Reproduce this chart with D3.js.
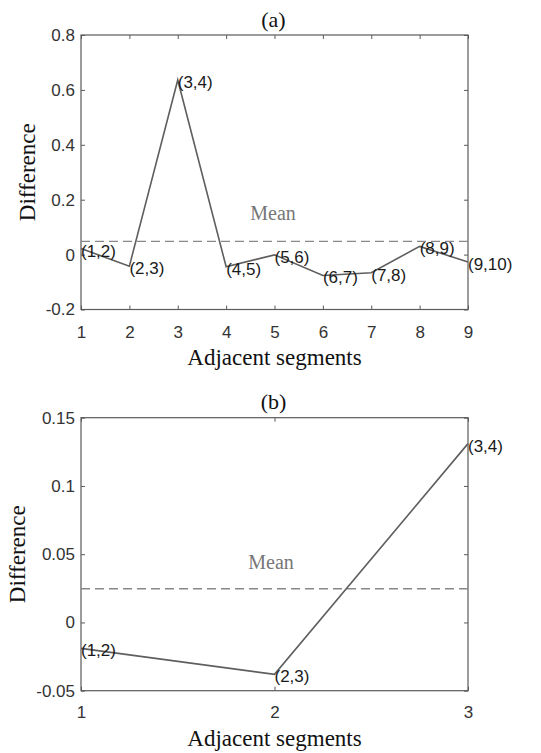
<!DOCTYPE html>
<html>
<head>
<meta charset="utf-8">
<script src="https://cdn.jsdelivr.net/npm/d3@7/dist/d3.min.js"></script>
<style>
  html, body { margin: 0; padding: 0; background: #fff; }
  svg { display: block; }
</style>
</head>
<body>
<svg id="chart" width="541" height="753"></svg>
<script>
// ---- Panel (a) data ----
const xA = [1, 2, 3, 4, 5, 6, 7, 8, 9];
const valuesA = [0.022, -0.042, 0.636, -0.044, -0.001, -0.076, -0.066, 0.030, -0.027];
const pairLabelsA = ["(1,2)", "(2,3)", "(3,4)", "(4,5)", "(5,6)", "(6,7)", "(7,8)", "(8,9)", "(9,10)"];
const yTicksA = [-0.2, 0, 0.2, 0.4, 0.6, 0.8];
const yTickLabelsA = ["-0.2", "0", "0.2", "0.4", "0.6", "0.8"];
const xTicksA = [1, 2, 3, 4, 5, 6, 7, 8, 9];

// ---- Panel (b) data ----
const xB = [1, 2, 3];
const valuesB = [-0.019, -0.038, 0.131];
const pairLabelsB = ["(1,2)", "(2,3)", "(3,4)"];
const yTicksB = [-0.05, 0, 0.05, 0.1, 0.15];
const yTickLabelsB = ["-0.05", "0", "0.05", "0.1", "0.15"];
const xTicksB = [1, 2, 3];

const titles = ["(a)", "(b)"];
const xTitle = "Adjacent segments";
const yTitle = "Difference";
const meanText = "Mean";

const svg = d3.select("#chart");

function panel(cfg) {
  const { xs, vals, labels, yTicks, yTickLabels, xTicks, xDomain, yDomain,
          left, right, top, bottom, title, titleY, yLabelX, xLabelY, xPad, meanLabelX, meanLabelY } = cfg;
  const x = d3.scaleLinear().domain(xDomain).range([left, right]);
  const y = d3.scaleLinear().domain(yDomain).range([bottom, top]);
  const g = svg.append("g");
  const axisColor = "#5a5a5a";
  const tickTextColor = "#333";

  // bottom axis
  const ax = g.append("g").attr("transform", `translate(0,${bottom})`)
    .call(d3.axisBottom(x).tickValues(xTicks).tickFormat(d => String(d))
      .tickSizeInner(-4).tickSizeOuter(0).tickPadding(xPad));
  // top axis (ticks only)
  const at = g.append("g").attr("transform", `translate(0,${top})`)
    .call(d3.axisTop(x).tickValues(xTicks).tickFormat("").tickSizeInner(-4).tickSizeOuter(0));
  // left axis
  const al = g.append("g").attr("transform", `translate(${left},0)`)
    .call(d3.axisLeft(y).tickValues(yTicks).tickFormat((d, i) => yTickLabels[i])
      .tickSizeInner(-4).tickSizeOuter(0).tickPadding(6));
  // right axis (ticks only)
  const ar = g.append("g").attr("transform", `translate(${right},0)`)
    .call(d3.axisRight(y).tickValues(yTicks).tickFormat("").tickSizeInner(-4).tickSizeOuter(0));

  [ax, at, al, ar].forEach(a => {
    a.select(".domain").remove();
    a.selectAll(".tick line").attr("stroke", axisColor).attr("stroke-width", 1);
    a.selectAll(".tick text").attr("fill", tickTextColor)
      .style("font-family", "'Liberation Sans', Arial, sans-serif").style("font-size", "17px");
  });

  // box
  g.append("rect").attr("x", left).attr("y", top)
    .attr("width", right - left).attr("height", bottom - top)
    .attr("fill", "none").attr("stroke", axisColor).attr("stroke-width", 1.2);

  // mean line
  const mean = d3.mean(vals);
  g.append("line").attr("x1", left).attr("x2", right)
    .attr("y1", y(mean)).attr("y2", y(mean))
    .attr("stroke", "#888").attr("stroke-width", 1.4).attr("stroke-dasharray", "9,5");

  g.append("text").attr("x", meanLabelX).attr("y", meanLabelY)
    .attr("text-anchor", "middle").attr("fill", "#777")
    .style("font-family", "'Liberation Serif', 'Times New Roman', serif").style("font-size", "20px")
    .text(meanText);

  // data line
  const line = d3.line().x((d, i) => x(xs[i])).y(d => y(d));
  g.append("path").datum(vals).attr("d", line)
    .attr("fill", "none").attr("stroke", "#5e5e5e").attr("stroke-width", 1.6);

  // point labels
  g.selectAll(".plab").data(vals).enter().append("text")
    .attr("x", (d, i) => x(xs[i]))
    .attr("y", d => y(d) + 2)
    .attr("dy", "0.35em")
    .attr("fill", "#1a1a1a")
    .style("font-family", "'Liberation Sans', Arial, sans-serif").style("font-size", "17px")
    .text((d, i) => labels[i]);

  // title
  g.append("text").attr("x", (left + right) / 2 - 1).attr("y", titleY)
    .attr("text-anchor", "middle").attr("dy", "0.35em").attr("fill", "#111")
    .style("font-family", "'Liberation Serif', 'Times New Roman', serif").style("font-size", "22px")
    .text(title);

  // x label
  g.append("text").attr("x", (left + right) / 2).attr("y", xLabelY)
    .attr("text-anchor", "middle").attr("dy", "0.35em").attr("fill", "#111")
    .style("font-family", "'Liberation Serif', 'Times New Roman', serif").style("font-size", "23px")
    .text(xTitle);

  // y label
  g.append("text")
    .attr("transform", `translate(${yLabelX},${(top + bottom) / 2}) rotate(-90)`)
    .attr("text-anchor", "middle").attr("dy", "0.35em").attr("fill", "#111")
    .style("font-family", "'Liberation Serif', 'Times New Roman', serif").style("font-size", "23px")
    .text(yTitle);
}

panel({
  xs: xA, vals: valuesA, labels: pairLabelsA, yTicks: yTicksA, yTickLabels: yTickLabelsA, xTicks: xTicksA,
  xDomain: [1, 9], yDomain: [-0.2, 0.8],
  left: 81, right: 468, top: 35, bottom: 309.5,
  title: titles[0], titleY: 19, yLabelX: 27, xLabelY: 357, xPad: 16,
  meanLabelX: 273, meanLabelY: 220
});

panel({
  xs: xB, vals: valuesB, labels: pairLabelsB, yTicks: yTicksB, yTickLabels: yTickLabelsB, xTicks: xTicksB,
  xDomain: [1, 3], yDomain: [-0.05, 0.15],
  left: 81, right: 468, top: 417.7, bottom: 690.7,
  title: titles[1], titleY: 401.5, yLabelX: 17, xLabelY: 738, xPad: 15,
  meanLabelX: 271, meanLabelY: 569
});
</script>
</body>
</html>
